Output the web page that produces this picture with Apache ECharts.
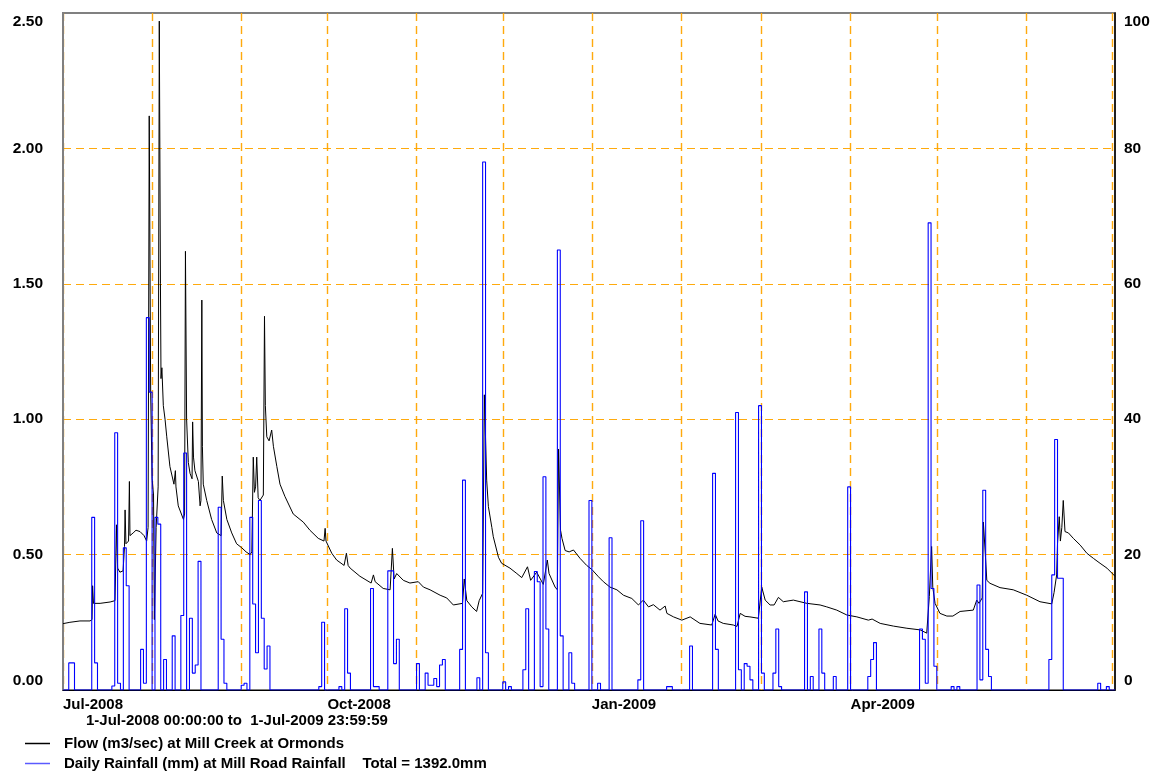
<!DOCTYPE html>
<html>
<head>
<meta charset="utf-8">
<script src="https://cdn.jsdelivr.net/npm/echarts@6/dist/echarts.min.js"></script>
<style>
html,body{margin:0;padding:0;background:#fff;}
#chart{width:1157px;height:772px;}
</style>
</head>
<body>
<div id="chart"></div>
<script>
// ---------------- DATA ----------------
const startDate = '2008-07-01';
const periodText = '1-Jul-2008 00:00:00 to  1-Jul-2009 23:59:59';
const flowName = 'Flow (m3/sec) at Mill Creek at Ormonds';
const rainName = 'Daily Rainfall (mm) at Mill Road Rainfall';
const rainTotalText = 'Total = 1392.0mm';

// month starts (vertical grid lines)
const monthStarts = ['2008-07-01','2008-08-01','2008-09-01','2008-10-01','2008-11-01','2008-12-01',
  '2009-01-01','2009-02-01','2009-03-01','2009-04-01','2009-05-01','2009-06-01','2009-07-01'];
// x tick labels
const xLabelDates = ['2008-07-01','2008-10-01','2009-01-01','2009-04-01'];
const xLabelTexts = ['Jul-2008','Oct-2008','Jan-2009','Apr-2009'];

// Flow (m3/sec): time in days since 1-Jul-2008, value
const flowDay = [0,2.4,5.9,9.4,10.1,10.3,10.6,12.9,16.4,18.1,18.6,19.0,19.8,20.9,21.4,21.6,21.9,22.8,23.1,23.3,
  24.4,25.4,26.8,28.2,29.1,29.6,30.0,30.5,31.0,31.5,31.8,32.4,33.1,33.5,33.9,34.1,34.4,34.9,35.5,36.1,
  37.2,38.6,39.1,39.3,40.1,41.9,42.3,42.6,43.0,43.6,44.2,44.9,45.1,45.4,45.9,47.1,47.7,48.0,48.3,48.5,
  48.8,50.0,51.7,53.5,55.0,55.4,55.8,57.0,58.7,60.4,62.2,63.7,65.1,65.7,66.2,66.6,67.0,67.4,67.9,68.5,
  69.7,70.1,70.4,70.9,71.7,72.6,73.2,74.4,75.5,77.2,80.1,83.6,85.9,88.8,90.8,91.2,91.5,93.5,95.2,97.8,
  98.6,99.2,99.9,103.3,107.2,108.0,108.6,111.4,113.8,114.6,115.2,116.1,118.4,120.7,123.6,125.4,127.7,131.2,133.5,135.8,
  139.0,139.6,140.5,142.2,143.9,144.8,146.0,146.6,147.4,148.0,149.2,149.7,151.5,152.6,155.5,157.9,159.6,161.6,162.7,164.8,
  167.1,168.5,169.1,171.2,172.0,172.4,173.1,173.6,174.7,176.1,177.6,179.9,182.2,184.0,186.3,188.0,190.3,192.7,195.0,197.9,
  200.2,201.9,203.7,205.4,207.7,209.5,210.1,212.4,215.3,218.2,221.6,225.7,226.9,227.9,229.7,233.2,234.5,235.6,237.3,239.0,
  241.9,243.1,244.3,246.0,247.4,248.9,250.6,254.1,258.8,263.4,265.7,269.2,272.7,276.2,280.2,281.5,284.3,288.9,293.6,298.2,
  300.5,301.4,302.2,302.6,303.4,305.1,307.5,309.6,312.1,316.7,317.9,318.7,319.8,320.2,320.8,321.4,322.5,326.0,330.6,335.3,
  339.9,344.0,344.8,345.7,346.0,346.6,347.0,347.5,348.0,348.6,349.8,351.5,353.9,356.2,358.5,360.8,363.2,366.0];
const flowValue = [0.245,0.25,0.255,0.255,0.26,0.385,0.32,0.32,0.325,0.33,0.61,0.45,0.435,0.44,0.53,0.665,0.54,0.55,0.77,0.57,
  0.58,0.59,0.585,0.57,0.55,0.6,2.12,1.10,0.78,0.72,0.26,0.6,0.75,2.47,1.5,1.15,1.19,1.05,1.0,0.935,
  0.825,0.76,0.81,0.75,0.68,0.63,0.65,1.62,1.0,0.84,0.80,0.78,0.99,0.86,0.81,0.77,0.68,0.70,1.44,0.9,
  0.76,0.70,0.63,0.58,0.57,0.79,0.70,0.63,0.58,0.54,0.525,0.51,0.50,0.51,0.86,0.73,0.75,0.86,0.71,0.70,
  0.72,1.38,1.05,0.935,0.92,0.96,0.90,0.825,0.76,0.715,0.65,0.62,0.59,0.56,0.55,0.597,0.55,0.505,0.48,0.46,
  0.505,0.46,0.45,0.42,0.395,0.425,0.40,0.375,0.37,0.523,0.41,0.43,0.405,0.395,0.40,0.38,0.37,0.35,0.34,0.314,
  0.32,0.41,0.33,0.307,0.29,0.33,0.357,1.09,0.775,0.677,0.60,0.566,0.49,0.468,0.45,0.43,0.415,0.455,0.405,0.435,
  0.39,0.48,0.43,0.38,0.37,0.89,0.59,0.56,0.515,0.51,0.517,0.486,0.46,0.445,0.418,0.40,0.38,0.37,0.35,0.338,
  0.314,0.332,0.307,0.315,0.295,0.31,0.283,0.27,0.258,0.27,0.246,0.24,0.28,0.255,0.246,0.24,0.235,0.283,0.272,0.27,
  0.265,0.38,0.332,0.314,0.314,0.342,0.326,0.332,0.32,0.314,0.307,0.295,0.277,0.27,0.258,0.262,0.246,0.236,0.228,0.222,
  0.21,0.345,0.53,0.38,0.32,0.283,0.273,0.273,0.29,0.295,0.332,0.32,0.34,0.62,0.517,0.405,0.394,0.378,0.37,0.35,
  0.326,0.318,0.36,0.425,0.54,0.64,0.55,0.60,0.70,0.585,0.58,0.56,0.535,0.505,0.486,0.468,0.45,0.42];

// Daily rainfall (mm): days (since 1-Jul-2008) with rain, and the amounts; all other days 0
const rainDay = [2,3,10,11,17,18,19,21,22,27,28,29,30,32,33,35,38,41,42,44,45,46,47,54,55,56,62,63,
  65,66,67,68,69,70,71,89,90,96,98,99,107,108,109,113,114,115,116,123,126,127,128,129,130,131,132,
  138,139,144,146,147,153,155,160,161,164,165,166,167,168,172,173,176,177,183,186,190,200,201,210,211,
  218,226,227,234,235,237,238,239,242,243,247,248,249,258,260,263,264,268,273,280,281,282,
  298,299,300,301,302,303,309,311,318,319,320,321,322,343,344,345,346,347,360,363];
const rainMm = [4,4,25.5,4,0.6,38,1,21,15.4,6,1,55,44,25.5,24.5,4.5,8,11,35,10.6,2.5,3.7,19,27,7.5,1,0.7,1,
  25.5,12.7,5.5,28,10.6,3.1,6.5,0.5,10,0.5,12,2.5,15,0.5,0.5,17.6,17.6,3.9,7.5,3.9,2.5,0.7,0.7,1.7,0.5,3.7,4.5,
  6,31,1.8,78,5.5,1.2,0.5,3,12,17.5,16,0.5,31.5,9,65,8,5.5,1,28,1,22.5,1.5,25,0.5,0.5,
  6.5,32,6,41,3,3.9,3.5,1.5,42,2.5,2.5,9,0.5,14.5,2,9,2.5,2,30,2,4.5,7,
  9,7.5,1,69,15,3.5,0.5,0.5,15.5,1.5,29.5,6,2,4.5,17,37,16.5,16.5,1,0.5];
const rainDaysTotal = 366;

// ---------------- BUILD ----------------
const FONT = '"Liberation Sans", Arial, Helvetica, sans-serif';
const DAYMS = 86400000;
const t0 = Date.parse(startDate + 'T00:00:00Z');
const dayOf = s => (Date.parse(s + 'T00:00:00Z') - t0) / DAYMS;
const monthDays = monthStarts.map(dayOf);
const labelDays = xLabelDates.map(dayOf);

const flowData = flowDay.map((d, i) => [d, flowValue[i]]);
const rainDaily = new Array(rainDaysTotal).fill(0);
rainDay.forEach((d, i) => { rainDaily[d] = rainMm[i]; });
const rainData = rainDaily.map((v, d) => [d, v]);
rainData.push([rainDaysTotal, rainDaily[rainDaysTotal - 1]]);

const ORANGE = 'rgba(255,165,0,0.95)';
const labelBase = {fontFamily: FONT, fontWeight: 'bold', fontSize: 15.5, color: '#000'};
const richLabels = {
  t: Object.assign({}, labelBase, {padding: [18, 0, 0, 0]}),
  b: Object.assign({}, labelBase, {padding: [0, 0, 18, 0]}),
  n: Object.assign({}, labelBase)
};

const chart = echarts.init(document.getElementById('chart'), null, {renderer: 'canvas'});
chart.setOption({
  animation: false,
  backgroundColor: '#fff',
  title: {
    text: periodText, left: 86, top: 713, padding: 0,
    textStyle: {fontFamily: FONT, fontWeight: 'bold', fontSize: 15, color: '#000', lineHeight: 16}
  },
  legend: {
    orient: 'vertical', left: 25, top: 736, height: 36, padding: 0,
    itemWidth: 25, itemHeight: 1.5, itemGap: 5,
    icon: 'rect', selectedMode: false,
    data: [flowName, rainName],
    formatter: n => n === rainName ? n + '    ' + rainTotalText : n,
    textStyle: {fontFamily: FONT, fontWeight: 'bold', fontSize: 15, color: '#000', lineHeight: 15, padding: [0, 0, 0, 9]}
  },
  grid: {left: 63, right: 42, top: 13, bottom: 82, show: true, borderColor: '#808080', borderWidth: 2, backgroundColor: 'transparent'},
  xAxis: {
    type: 'value', min: 0, max: rainDaysTotal,
    axisLine: {show: true, lineStyle: {color: '#000', width: 1}},
    axisTick: {show: false, customValues: monthDays},
    splitLine: {show: true, lineStyle: {color: ORANGE, type: [8, 5], width: 1.4}},
    axisLabel: {
      customValues: labelDays, align: 'left', margin: 7,
      formatter: v => { const i = labelDays.indexOf(v); return i >= 0 ? xLabelTexts[i] : ''; },
      fontFamily: FONT, fontWeight: 'bold', fontSize: 15, color: '#000'
    }
  },
  yAxis: [{
    type: 'value', min: 0, max: 2.5, interval: 0.5, position: 'left',
    axisLine: {show: true, lineStyle: {color: '#808080', width: 2}},
    axisTick: {show: false},
    splitLine: {show: true, showMaxLine: false, showMinLine: false, lineStyle: {color: ORANGE, type: [8, 5], width: 1.2}},
    axisLabel: {
      margin: 20,
      formatter: v => v === 2.5 ? '{t|' + v.toFixed(2) + '}' : (v === 0 ? '{b|' + v.toFixed(2) + '}' : '{n|' + v.toFixed(2) + '}'),
      rich: richLabels
    }
  }, {
    type: 'value', min: 0, max: 100, interval: 20, position: 'right',
    axisLine: {show: true, lineStyle: {color: '#000', width: 1.5}},
    axisTick: {show: false},
    splitLine: {show: false},
    axisLabel: {
      margin: 9,
      formatter: v => v === 100 ? '{t|' + v + '}' : (v === 0 ? '{b|' + v + '}' : '{n|' + v + '}'),
      rich: richLabels
    }
  }],
  series: [{
    name: flowName, type: 'line', yAxisIndex: 0, data: flowData,
    showSymbol: false, symbol: 'none', z: 2,
    lineStyle: {color: '#000', width: 1}, itemStyle: {color: '#000'}
  }, {
    name: rainName, type: 'line', yAxisIndex: 1, data: rainData, step: 'end',
    showSymbol: false, symbol: 'none', z: 3,
    lineStyle: {color: '#0000ff', width: 1.1}, itemStyle: {color: '#5a5aff'}
  }]
});
</script>
</body>
</html>
